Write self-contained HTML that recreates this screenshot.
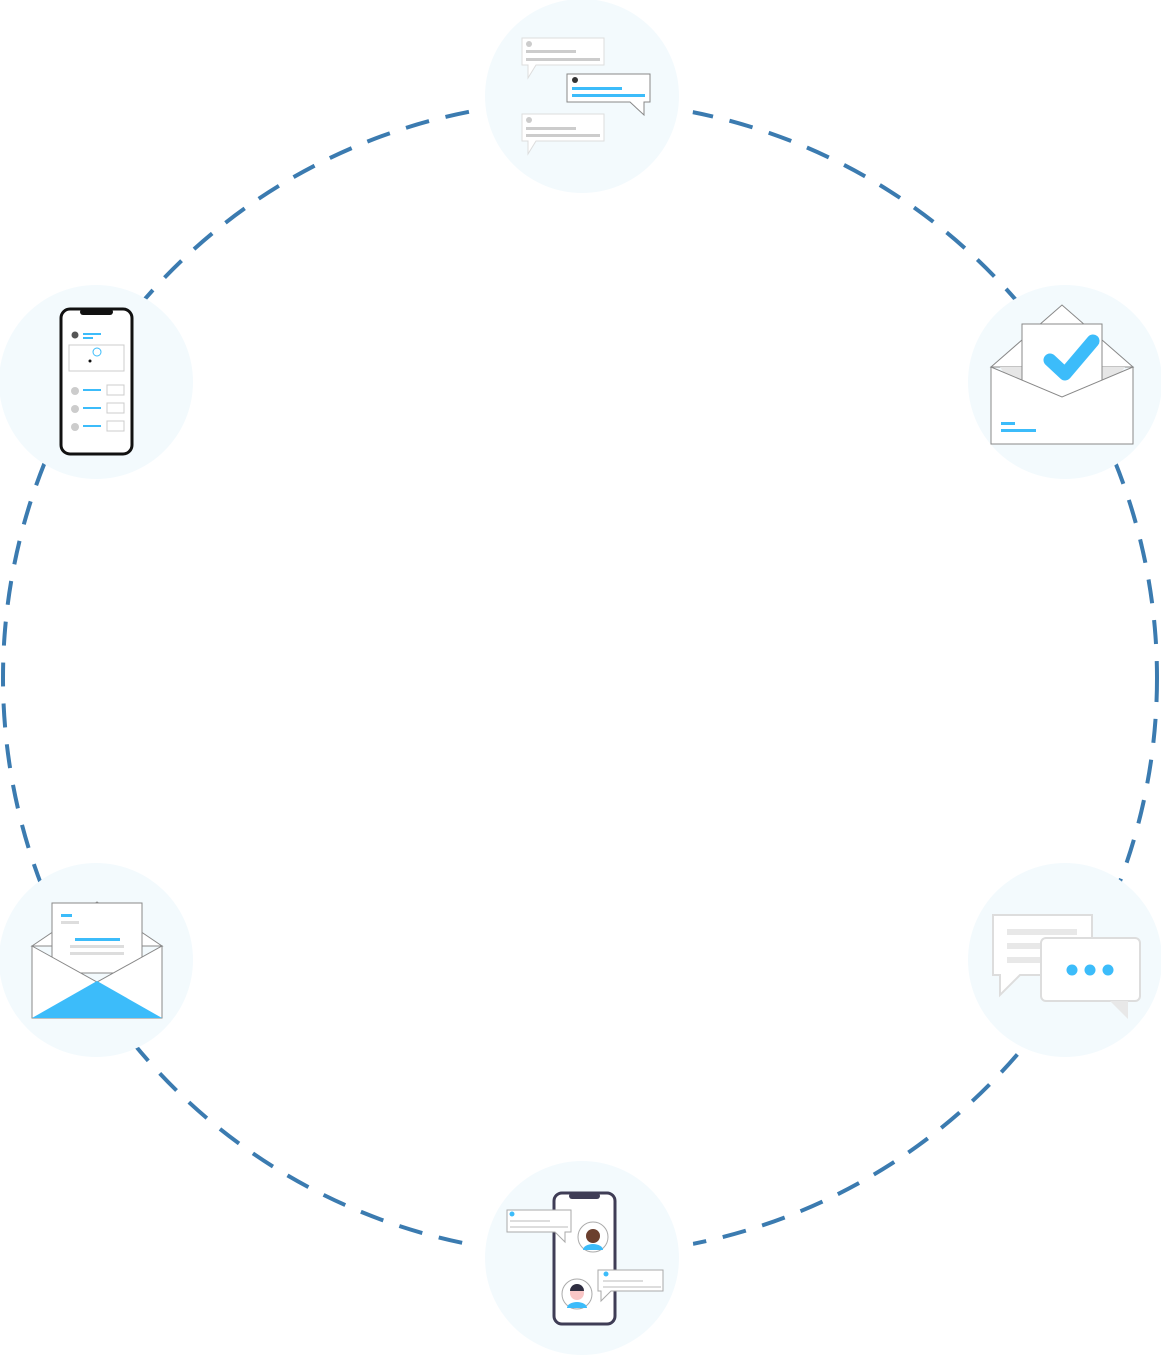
<!DOCTYPE html>
<html><head><meta charset="utf-8"><style>html,body{margin:0;padding:0;background:#fff}svg{display:block}</style></head>
<body>
<svg width="1161" height="1356" viewBox="0 0 1161 1356" xmlns="http://www.w3.org/2000/svg">
<circle cx="580" cy="678" r="577" fill="none" stroke="#3b7bb0" stroke-width="4" stroke-dasharray="24 17"/>
<g fill="#fff">
<circle cx="582" cy="96" r="112"/>
<circle cx="582" cy="1258" r="112"/>
</g>
<g fill="#f3fafd">
<circle cx="582" cy="96" r="97"/>
<circle cx="96" cy="382" r="97"/>
<circle cx="1065" cy="382" r="97"/>
<circle cx="96" cy="960" r="97"/>
<circle cx="1065" cy="960" r="97"/>
<circle cx="582" cy="1258" r="97"/>
</g>
<!-- top chat bubbles -->
<g>
<path d="M522 38h82v27h-68l-8 13v-13h-6z" fill="#fff" stroke="#ddd"/>
<circle cx="529" cy="44" r="3" fill="#ccc"/><rect x="526" y="50" width="50" height="3" fill="#ccc"/><rect x="526" y="58" width="74" height="3" fill="#ccc"/>
<path d="M567 74h83v28h-6v13l-14-13h-63z" fill="#fff" stroke="#888"/>
<circle cx="575" cy="80" r="3" fill="#333"/><rect x="572" y="87" width="50" height="3" fill="#3cbcfa"/><rect x="572" y="94" width="73" height="3" fill="#3cbcfa"/>
<path d="M522 114h82v27h-68l-8 13v-13h-6z" fill="#fff" stroke="#ddd"/>
<circle cx="529" cy="120" r="3" fill="#ccc"/><rect x="526" y="127" width="50" height="3" fill="#ccc"/><rect x="526" y="134" width="74" height="3" fill="#ccc"/>
</g>
<!-- left-top phone -->
<g>
<rect x="61" y="309" width="71" height="145" rx="9" fill="#fff" stroke="#111" stroke-width="3"/>
<rect x="80" y="309" width="33" height="6" rx="3" fill="#111"/>
<circle cx="75" cy="335" r="3.5" fill="#555"/><rect x="83" y="333" width="18" height="2" fill="#3cbcfa"/><rect x="83" y="337" width="10" height="2" fill="#3cbcfa"/>
<rect x="69" y="345" width="55" height="26" fill="#fff" stroke="#ccc"/><circle cx="97" cy="352" r="4" fill="none" stroke="#3cbcfa"/><circle cx="90" cy="361" r="1.5" fill="#111"/>
<g fill="#ccc"><circle cx="75" cy="391" r="4"/><circle cx="75" cy="409" r="4"/><circle cx="75" cy="427" r="4"/></g>
<g fill="#3cbcfa"><rect x="83" y="389" width="18" height="2"/><rect x="83" y="407" width="18" height="2"/><rect x="83" y="425" width="18" height="2"/></g>
<g fill="none" stroke="#ccc"><rect x="107" y="385" width="17" height="10"/><rect x="107" y="403" width="17" height="10"/><rect x="107" y="421" width="17" height="10"/></g>
</g>
<!-- right-top envelope -->
<g>
<path d="M991 367l71-62 71 62z" fill="#fff" stroke="#888"/>
<path d="M1000 367h125l-45 60h-40z" fill="#e6e6e6"/>
<rect x="1022" y="324" width="80" height="80" fill="#fff" stroke="#888"/>
<path d="M1050 360l15 14 28-33" fill="none" stroke="#3cbcfa" stroke-width="13" stroke-linecap="round" stroke-linejoin="round"/>
<path d="M991 367l71 30 71-30v77h-142z" fill="#fff" stroke="#888"/>
<rect x="1001" y="422" width="14" height="3" fill="#3cbcfa"/><rect x="1001" y="429" width="35" height="3" fill="#3cbcfa"/>
</g>
<!-- left-bottom envelope -->
<g>
<path d="M32 946l65-44 65 44z" fill="#fff" stroke="#888"/>
<rect x="52" y="903" width="90" height="70" fill="#fff" stroke="#888"/>
<rect x="61" y="914" width="11" height="3" fill="#3cbcfa"/><rect x="61" y="921" width="18" height="3" fill="#ddd"/>
<rect x="75" y="938" width="45" height="3" fill="#3cbcfa"/><rect x="70" y="945" width="54" height="3" fill="#ddd"/><rect x="70" y="952" width="54" height="3" fill="#ddd"/>
<path d="M32 946l65 36 65-36v72h-130z" fill="#fff" stroke="#888"/>
<path d="M32 1018l65-37 65 37z" fill="#3cbcfa"/>
</g>
<!-- right-bottom chat -->
<g>
<path d="M993 915h99v60h-72l-20 20v-20h-7z" fill="#fff" stroke="#ddd" stroke-width="2"/>
<rect x="1007" y="929" width="70" height="6" fill="#e8e8e8"/><rect x="1007" y="943" width="70" height="6" fill="#e8e8e8"/><rect x="1007" y="957" width="40" height="6" fill="#e8e8e8"/>
<rect x="1041" y="938" width="99" height="63" rx="5" fill="#fff" stroke="#ddd" stroke-width="2"/>
<path d="M1110 1001h18v18z" fill="#e8e8e8"/>
<g fill="#3cbcfa"><circle cx="1072" cy="970" r="5.5"/><circle cx="1090" cy="970" r="5.5"/><circle cx="1108" cy="970" r="5.5"/></g>
</g>
<!-- bottom phone -->
<g>
<rect x="554" y="1193" width="61" height="131" rx="8" fill="#fff" stroke="#3f3d56" stroke-width="3"/>
<rect x="569" y="1193" width="31" height="6" rx="3" fill="#3f3d56"/>
<circle cx="593" cy="1237" r="15" fill="#fff" stroke="#aaa"/><circle cx="593" cy="1236" r="7" fill="#6b3f2e"/><path d="M583 1250a10 6 0 0 1 20 0z" fill="#3cbcfa"/>
<circle cx="577" cy="1294" r="15" fill="#fff" stroke="#aaa"/><circle cx="577" cy="1293" r="7" fill="#f9c6c6"/><path d="M570 1291a7 7 0 0 1 14 0z" fill="#2f2e41"/><path d="M567 1308a10 6 0 0 1 20 0z" fill="#3cbcfa"/>
<path d="M507 1210h64v22h-6v10l-10-10h-48z" fill="#fff" stroke="#aaa"/>
<circle cx="512" cy="1214" r="2.5" fill="#3cbcfa"/><rect x="510" y="1220" width="40" height="2" fill="#ddd"/><rect x="510" y="1226" width="58" height="2" fill="#ddd"/>
<path d="M598 1270h65v21h-52l-10 10v-10h-3z" fill="#fff" stroke="#aaa"/>
<circle cx="606" cy="1274" r="2.5" fill="#3cbcfa"/><rect x="603" y="1280" width="40" height="2" fill="#ddd"/><rect x="603" y="1286" width="58" height="2" fill="#ddd"/>
</g>
</svg>
</body></html>
